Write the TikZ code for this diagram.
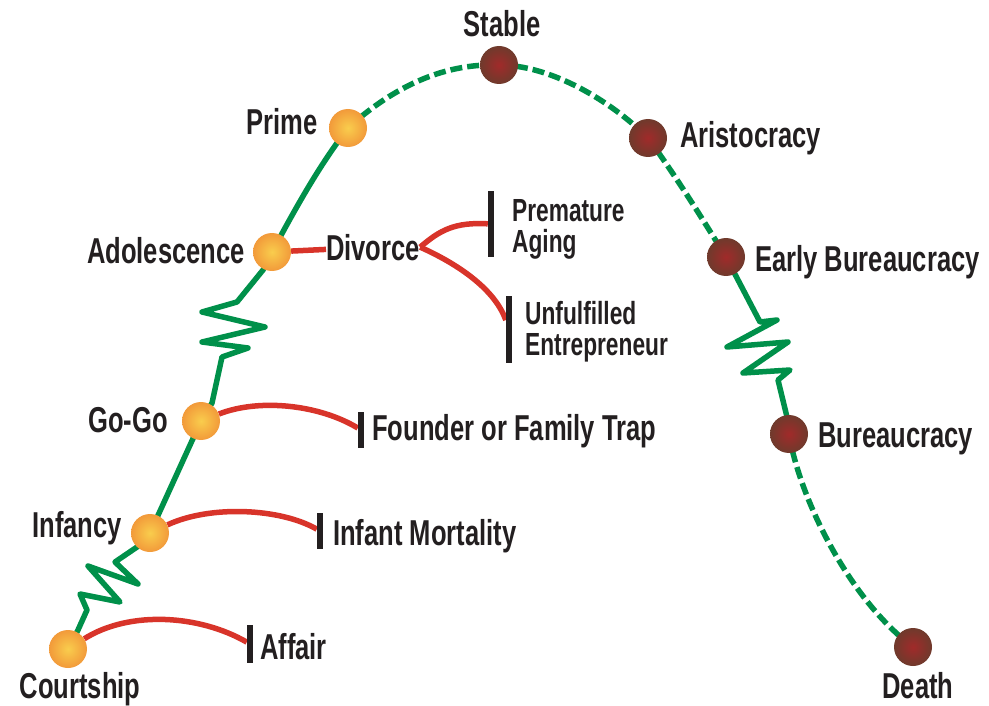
\documentclass[tikz,border=0pt]{standalone}
\usepackage{fontspec}
\usetikzlibrary{backgrounds}
\newfontfamily\lblfont{Liberation Sans}[FakeStretch=0.71]
\definecolor{lgreen}{HTML}{00904A}
\definecolor{lred}{HTML}{D8342A}
\definecolor{lorange}{HTML}{F29A3A}
\definecolor{lyellow}{HTML}{F9CD4D}
\definecolor{lbrown}{HTML}{6F3A2C}
\definecolor{lbrownc}{HTML}{A12A2A}
\definecolor{ltext}{HTML}{231F20}
\begin{document}
\begin{tikzpicture}[x=1pt,y=-1pt,
  life/.style={draw=lgreen, line width=5.5pt, line join=round},
  lifedash/.style={life, dash pattern=on 12pt off 5pt},
  trap/.style={draw=lred, line width=5.5pt},
  odot/.style={circle, minimum size=38pt, inner sep=0pt, inner color=lyellow, outer color=lorange},
  bdot/.style={circle, minimum size=38pt, inner sep=0pt, inner color=lbrownc, outer color=lbrown},
  bar/.style={fill=ltext, minimum width=6pt, inner sep=0pt},
  lab/.style={inner sep=0pt, text=ltext, font=\lblfont\bfseries\fontsize{36}{36}\selectfont},
  sublab/.style={inner sep=0pt, text=ltext, font=\lblfont\bfseries\fontsize{32}{31}\selectfont, align=left, anchor=base west}
]
\useasboundingbox (0,0) rectangle (989,706);

% stage dots
\node[odot] (court) at (68,649) {};
\node[odot] (inf) at (150,533) {};
\node[odot] (gogo) at (201,421) {};
\node[odot] (ado) at (272,252) {};
\node[odot] (prime) at (348,128) {};
\node[bdot] (stable) at (499,65) {};
\node[bdot] (arist) at (648,138) {};
\node[bdot] (early) at (726,257) {};
\node[bdot] (bur) at (789,434) {};
\node[bdot] (death) at (913,647) {};

% stage labels
\node[lab, anchor=base] (tcourt) at (80,698) {Courtship};
\node[lab, anchor=base east] (tinf) at (122,537) {Infancy};
\node[lab, anchor=base east] (tgogo) at (168,432) {Go-Go};
\node[lab, anchor=base east] (tado) at (245,263) {Adolescence};
\node[lab, anchor=base east] (tprime) at (318,135) {Prime};
\node[lab, anchor=base] (tstable) at (502,37) {Stable};
\node[lab, anchor=base west] (tarist) at (680,148) {Aristocracy};
\node[lab, anchor=base west] (tearly) at (755,271) {Early Bureaucracy};
\node[lab, anchor=base west] (tbur) at (818,447) {Bureaucracy};
\node[lab, anchor=base] (tdeath) at (918,698) {Death};
\node[lab, anchor=base west, xscale=1] (tdiv) at (326,260) {Divorce};

% traps
\node[bar, minimum height=38pt] (affbar) at (250,644) {};
\node[bar, minimum height=36pt] (imbar) at (320,531) {};
\node[bar, minimum height=36pt] (fbar) at (361,430) {};
\node[bar, minimum height=65pt] (pabar) at (491,224) {};
\node[bar, minimum height=67pt] (uebar) at (509,329) {};
\node[lab, anchor=base west] (taff) at (260,659) {Affair};
\node[lab, anchor=base west] (tim) at (333,545) {Infant Mortality};
\node[lab, anchor=base west] (tfound) at (372,440) {Founder or Family Trap};
\node[sublab] (tpa) at (512,252) {Premature\\Aging};
\node[sublab] (tue) at (525,355) {Unfulfilled\\Entrepreneur};

\begin{scope}[on background layer]
% life curve
\draw[life] (court.center) -- (78,630) -- (87,610) -- (80,594) -- (120,602) -- (88,566) -- (138,584) -- (115,562) -- (140,545) -- (inf.center);
\draw[life] (inf.center) -- (gogo.center);
\draw[life] (gogo.center) -- (212,403) -- (222,357) -- (248,348) -- (202,342) -- (265,327) -- (202,312) -- (237,302) -- (263,270) -- (ado.center);
\draw[life] (ado.center) .. controls (300,200) and (320,165) .. (prime.center);
\draw[lifedash] (prime.center) .. controls (390,90) and (440,63) .. (stable.center);
\draw[lifedash] (stable.center) .. controls (550,65) and (610,100) .. (arist.center);
\draw[lifedash] (arist.center) .. controls (675,175) and (700,215) .. (early.center);
\draw[life] (early.center) -- (760,322) -- (777,320) -- (727,347) -- (788,342) -- (743,373) -- (790,370) -- (778,380) -- (787,417) -- (bur.center);
\draw[lifedash] (bur.center) .. controls (800,500) and (850,600) .. (death.center);
% trap connectors
\draw[trap] (court) .. controls (130,610) and (200,615) .. (affbar);
\draw[trap] (inf) .. controls (210,505) and (280,508) .. (imbar);
\draw[trap] (gogo) .. controls (260,398) and (320,405) .. (fbar);
\draw[trap] (ado) -- (tdiv);
\draw[trap] (tdiv.east) .. controls (440,230) and (455,222) .. (pabar);
\draw[trap] (tdiv.east) .. controls (460,265) and (495,290) .. (uebar);
\end{scope}
\end{tikzpicture}
\end{document}
